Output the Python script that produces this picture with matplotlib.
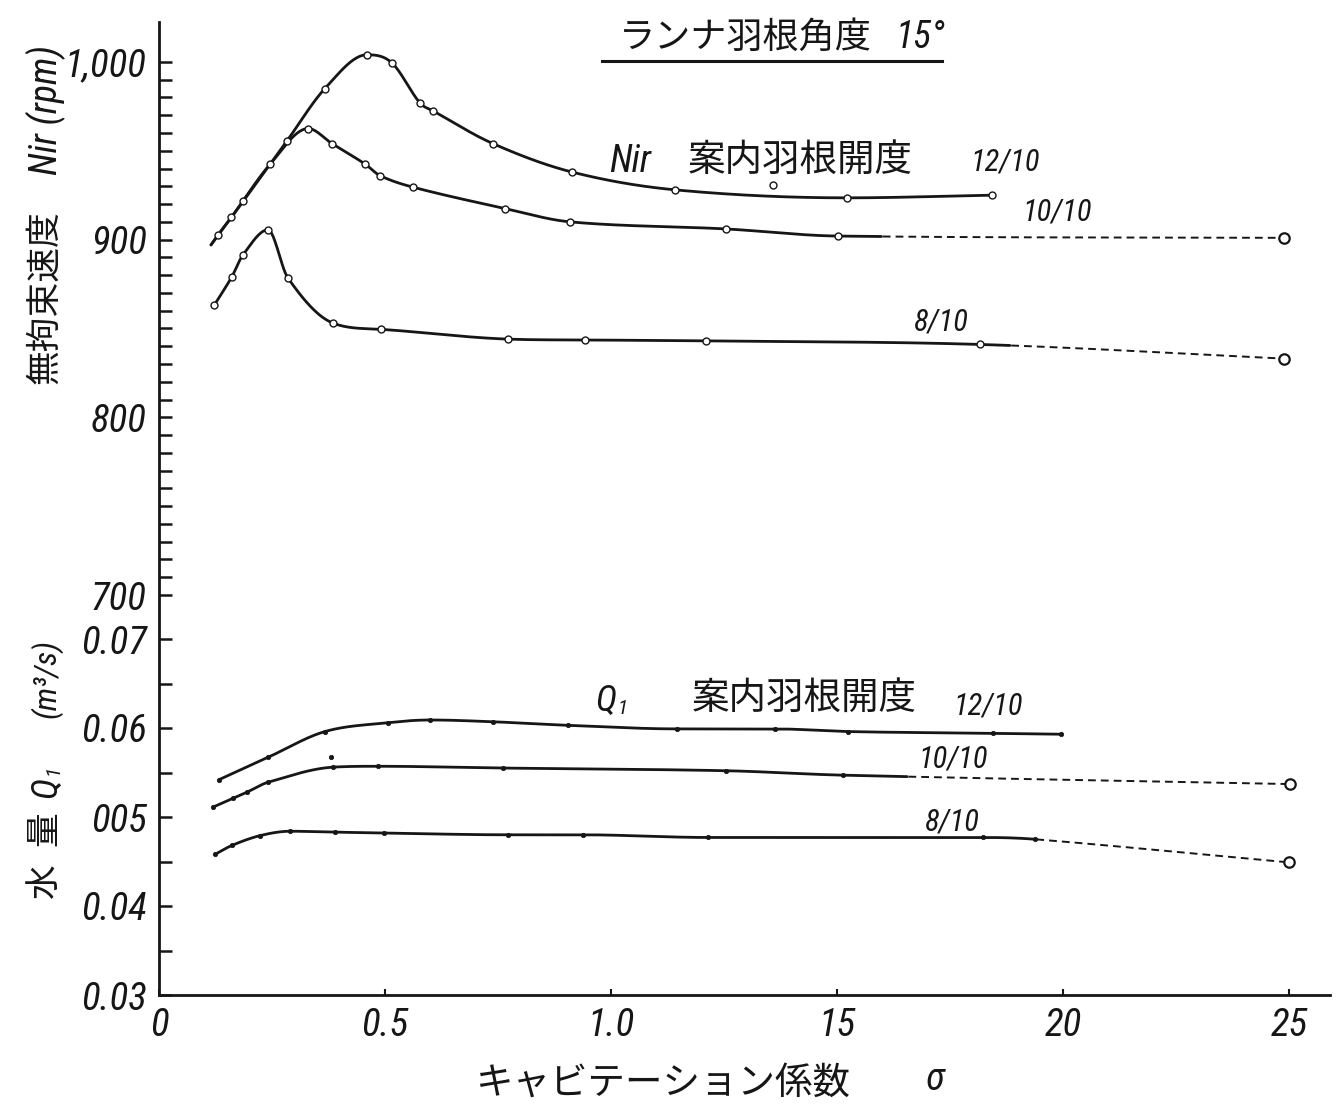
import numpy as np
import matplotlib
matplotlib.use("Agg")
import matplotlib.pyplot as plt
from matplotlib import font_manager
from matplotlib.lines import Line2D
from matplotlib.ticker import FixedLocator, FixedFormatter

# Runner blade angle 15 deg: runaway speed and discharge against the
# cavitation coefficient sigma, for guide-vane openings 12/10, 10/10, 8/10.

# ---- runaway speed Nir (rpm) ----
sigma_n12 = [0.115, 0.13, 0.16, 0.186, 0.246, 0.283, 0.367, 0.46, 0.515,
             0.577, 0.606, 0.739, 0.914, 1.142, 1.522, 1.843]
nir_12 = [897, 902.5, 912.5, 921.5, 942.5, 955.5, 985, 1004, 999.5,
          977, 972.5, 954, 938, 928, 923.5, 925]
sigma_n12_extra = [1.358]
nir_12_extra = [931]

sigma_n10 = [0.115, 0.16, 0.246, 0.33, 0.383, 0.456, 0.489, 0.562,
             0.765, 0.909, 1.254, 1.502, 2.49]
nir_10 = [897, 912.5, 942.5, 962.5, 954, 942.5, 936, 929.5,
          917.5, 910, 906, 902, 901]
n10_solid_to = 1.60

sigma_n8 = [0.122, 0.161, 0.186, 0.241, 0.285, 0.385, 0.491, 0.772,
            0.942, 1.21, 1.816, 2.49]
nir_8 = [863, 879, 891.5, 905.5, 878.5, 853, 849.5, 844,
         843.5, 843, 841, 833]
n8_solid_to = 1.883

# ---- discharge Q1 (m3/s) ----
sigma_q12 = [0.133, 0.241, 0.367, 0.507, 0.60, 0.739, 0.905, 1.146,
             1.363, 1.524, 1.845, 1.996]
q_12 = [0.0542, 0.0567, 0.0596, 0.0606, 0.0609, 0.0607, 0.0603, 0.0599,
        0.0599, 0.0596, 0.0594, 0.0593]

sigma_q10 = [0.119, 0.164, 0.195, 0.241, 0.385, 0.485, 0.761, 1.254,
             1.513, 2.502]
q_10 = [0.0511, 0.0521, 0.0528, 0.0539, 0.0556, 0.0557, 0.0555, 0.0552,
        0.0547, 0.0537]
q10_solid_to = 1.655
sigma_q10_extra = [0.381]
q_10_extra = [0.0567]

sigma_q8 = [0.124, 0.161, 0.223, 0.29, 0.389, 0.498, 0.772, 0.938,
            1.215, 1.823, 1.938, 2.50]
q_8 = [0.0458, 0.0468, 0.0479, 0.0484, 0.0483, 0.0482, 0.0480, 0.0480,
       0.0477, 0.0477, 0.0475, 0.0449]
q8_solid_to = 1.938

# ---- axes scales / ticks ----
x_ticks = [0, 0.5, 1.0, 1.5, 2.0, 2.5]
x_ticklabels = ["0", "0.5", "1.0", "15", "20", "25"]
nir_major = [700, 800, 900, 1000]
nir_labels = ["700", "800", "900", "1,000"]
q_major = [0.03, 0.04, 0.05, 0.06, 0.07]
q_labels = ["0.03", "0.04", "005", "0.06", "0.07"]


# ---- fonts ----
def pick_narrow():
    fl = font_manager.fontManager.ttflist
    names = {f.name for f in fl}
    for want in ("Liberation Sans Narrow", "Roboto Condensed",
                 "Open Sans Condensed", "Noto Sans Condensed"):
        if want in names:
            return want, "normal"
    for f in fl:
        if "Condensed" in f.name or "Narrow" in f.name:
            return f.name, "normal"
    for f in fl:
        if f.stretch in ("condensed", "semi-condensed", "extra-condensed"):
            return f.name, f.stretch
    return "Roboto", "normal"


NUM, NUM_STRETCH = pick_narrow()
CJK = "Noto Sans CJK JP"
plt.rcParams["font.family"] = [NUM, "DejaVu Sans"]
NUMF = dict(family=[NUM, "DejaVu Sans"], fontstretch=NUM_STRETCH,
            style="italic")
CJKF = dict(family=[CJK, "DejaVu Sans"])

INK = "#161616"
W, H = 1339, 1117


def P(px, py):
    """Pixel position on the sheet -> figure fraction."""
    return px / W, 1 - py / H


def smooth(x, y, num=800):
    """Smooth monotone-limited cubic through the given points (for drawing)."""
    x = np.asarray(x, float)
    y = np.asarray(y, float)
    h = np.diff(x)
    d = np.diff(y) / h
    n = len(x)
    m = np.zeros(n)
    for k in range(1, n - 1):
        if d[k - 1] * d[k] <= 0:
            m[k] = 0.0
        else:
            m[k] = (y[k + 1] - y[k - 1]) / (x[k + 1] - x[k - 1])
    m[0] = d[0]
    m[-1] = d[-1]
    # Fritsch-Carlson limiter against overshoot
    for k in range(n - 1):
        if d[k] == 0:
            m[k] = m[k + 1] = 0.0
            continue
        a, b = m[k] / d[k], m[k + 1] / d[k]
        s = a * a + b * b
        if s > 9:
            t = 3 / np.sqrt(s)
            m[k], m[k + 1] = t * a * d[k], t * b * d[k]
    xs = np.linspace(x[0], x[-1], num)
    i = np.clip(np.searchsorted(x, xs) - 1, 0, n - 2)
    t = (xs - x[i]) / h[i]
    h00 = 2 * t**3 - 3 * t**2 + 1
    h10 = t**3 - 2 * t**2 + t
    h01 = -2 * t**3 + 3 * t**2
    h11 = t**3 - t**2
    ys = h00 * y[i] + h10 * h[i] * m[i] + h01 * y[i + 1] + h11 * h[i] * m[i + 1]
    return xs, ys


def draw_curve(ax, x, y, solid_to=None, lw=2.0):
    xs, ys = smooth(x, y)
    if solid_to is None:
        ax.plot(xs, ys, color=INK, lw=lw, solid_capstyle="round", zorder=3)
        return
    s = xs <= solid_to
    ax.plot(xs[s], ys[s], color=INK, lw=lw, solid_capstyle="round", zorder=3)
    d = xs >= solid_to
    ax.plot(xs[d], ys[d], color=INK, lw=1.4, dashes=(4, 2.6), zorder=3)


fig = plt.figure(figsize=(W / 100, H / 100), dpi=100)
fig.patch.set_facecolor("white")

x0, x1 = 159, 1330
y_bot, y_top = 995, 22
ax = fig.add_axes([x0 / W, 1 - y_bot / H, (x1 - x0) / W, (y_bot - y_top) / H])
axn = ax.twinx()

px_per_sigma = 452.0
ax.set_xlim(0, (x1 - x0) / px_per_sigma)

# discharge scale: 0.03 on the base line, 89 px per 0.01
q_px = 8900.0
ax.set_ylim(0.03, 0.03 + (y_bot - y_top) / q_px)
# speed scale: 700 rpm at y=595, 1.777 px per rpm
n_px = 1.777
axn.set_ylim(700 - (y_bot - 595) / n_px, 700 + (595 - y_top) / n_px)

for a in (ax, axn):
    a.set_facecolor("none")
    for side in ("top", "right"):
        a.spines[side].set_visible(False)
for side in ("left", "bottom"):
    axn.spines[side].set_visible(False)
    ax.spines[side].set_linewidth(2.0)
    ax.spines[side].set_color(INK)

TICK_SIZE = 28

# x axis
ax.xaxis.set_major_locator(FixedLocator(x_ticks))
ax.xaxis.set_major_formatter(FixedFormatter(x_ticklabels))
ax.tick_params(axis="x", direction="in", length=4, width=1.5, color=INK,
               pad=9, labelsize=TICK_SIZE, labelcolor=INK)

# discharge ticks
ax.yaxis.set_major_locator(FixedLocator(q_major))
ax.yaxis.set_major_formatter(FixedFormatter(q_labels))
ax.yaxis.set_minor_locator(FixedLocator([0.035, 0.045, 0.055, 0.065]))
ax.tick_params(axis="y", which="both", direction="in", length=9, width=1.8,
               color=INK, pad=9, labelsize=TICK_SIZE, labelcolor=INK)

# speed ticks on the same left axis line
axn.yaxis.tick_left()
axn.yaxis.set_major_locator(FixedLocator(nir_major))
axn.yaxis.set_major_formatter(FixedFormatter(nir_labels))
axn.yaxis.set_minor_locator(FixedLocator(
    [v for v in range(710, 1000, 10) if v not in nir_major]))
axn.tick_params(axis="y", which="both", direction="in", length=9, width=1.8,
                color=INK, pad=9, labelsize=TICK_SIZE, labelcolor=INK)

for lbl in ax.get_xticklabels() + ax.get_yticklabels() + axn.get_yticklabels():
    lbl.set_fontstyle("italic")
    lbl.set_family([NUM, "DejaVu Sans"])
    lbl.set_fontstretch(NUM_STRETCH)

# ---- speed curves ----
draw_curve(axn, sigma_n12, nir_12)
draw_curve(axn, sigma_n10, nir_10, n10_solid_to)
draw_curve(axn, sigma_n8, nir_8, n8_solid_to)

small_o = dict(ls="none", marker="o", ms=5, mfc="white", mec=INK, mew=1.0, zorder=4)
big_o = dict(ls="none", marker="o", ms=7.5, mfc="white", mec=INK, mew=1.6, zorder=4)
axn.plot(sigma_n12[1:], nir_12[1:], **small_o)
axn.plot(sigma_n12_extra, nir_12_extra, **small_o)
axn.plot(sigma_n10[3:-1], nir_10[3:-1], **small_o)
axn.plot(sigma_n10[-1:], nir_10[-1:], **big_o)
axn.plot(sigma_n8[:-1], nir_8[:-1], **small_o)
axn.plot(sigma_n8[-1:], nir_8[-1:], **big_o)

# ---- discharge curves ----
draw_curve(ax, sigma_q12, q_12)
draw_curve(ax, sigma_q10, q_10, q10_solid_to)
draw_curve(ax, sigma_q8, q_8, q8_solid_to)

dot = dict(ls="none", marker="o", ms=3.2, mfc=INK, mec=INK, mew=0.5, zorder=4)
ax.plot(sigma_q12, q_12, **dot)
ax.plot(sigma_q10[:-1], q_10[:-1], **dot)
ax.plot(sigma_q10_extra, q_10_extra, **dot)
ax.plot(sigma_q10[-1:], q_10[-1:], **big_o)
ax.plot(sigma_q8[:-1], q_8[:-1], **dot)
ax.plot(sigma_q8[-1:], q_8[-1:], **big_o)


def txt(px, py, s, size, font, rot=0, ha="center"):
    fig.text(*P(px, py), s, fontsize=size, rotation=rot, ha=ha,
             va="center", color=INK, **font)


# ---- title ----
txt(745, 38, "ランナ羽根角度", 26, CJKF)
txt(920, 37, "15°", 27, NUMF)
fig.add_artist(Line2D([602 / W, 942 / W], [1 - 61 / H, 1 - 61 / H],
                      color=INK, lw=2.2))

# ---- curve annotations: speed ----
txt(630, 161, "Nir", 27, NUMF)
txt(800, 160, "案内羽根開度", 27, CJKF)
txt(1005, 162, "12/10", 22, NUMF)
txt(1057, 212, "10/10", 22, NUMF)
txt(941, 322, "8/10", 22, NUMF)

# ---- curve annotations: discharge ----
txt(606, 701, "Q", 26, NUMF)
txt(623, 709, "1", 15, NUMF)
txt(804, 698, "案内羽根開度", 27, CJKF)
txt(988, 706, "12/10", 22, NUMF)
txt(953, 759, "10/10", 22, NUMF)
txt(952, 822, "8/10", 22, NUMF)

# ---- axis titles ----
txt(45, 297, "無拘束速度", 25, CJKF, rot=90)
txt(46, 110, "Nir (rpm)", 27, NUMF, rot=90)

txt(45, 882, "水", 25, CJKF, rot=90)
txt(45, 829, "量", 25, CJKF, rot=90)
txt(46, 787, "Q", 26, NUMF, rot=90)
txt(53, 770, "1", 15, NUMF, rot=90)
txt(46, 678, "(m³/s)", 23, NUMF, rot=90)

txt(663, 1083, "キャビテーション係数", 27, CJKF)
txt(935, 1080, "σ", 28, NUMF)

fig.savefig("out.png", dpi=100, facecolor="white")
